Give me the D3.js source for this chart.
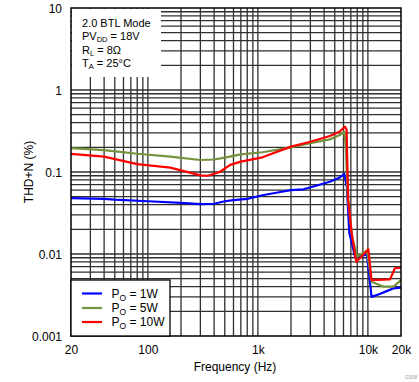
<!DOCTYPE html>
<html><head><meta charset="utf-8">
<script src="https://cdn.jsdelivr.net/npm/d3@7"></script>
<style>body{margin:0;background:#fff}svg{display:block;font-family:"Liberation Sans",Arial,sans-serif}</style>
</head><body>
<script>
// ---- data ----
const xTickValues = [20, 100, 1000, 10000, 20000];
const xTickLabels = ["20", "100", "1k", "10k", "20k"];
const yTickValues = [0.001, 0.01, 0.1, 1, 10];
const yTickLabels = ["0.001", "0.01", "0.1", "1", "10"];

const freq1W = [20,40,50,100,200,300,400,500,600,800,1100,1600,2000,2600,3500,4500,5500,6100,6440,6780,7640,9800,10800,12800,15400,17000,20000];
const thd1W  = [0.048,0.047,0.046,0.044,0.042,0.0405,0.041,0.044,0.0455,0.047,0.052,0.057,0.060,0.0615,0.069,0.076,0.085,0.095,0.066,0.018,0.0093,0.0098,0.0030,0.00325,0.0036,0.0038,0.0039];

const freq5W = [20,40,80,160,300,400,500,700,1100,2000,3000,4500,5500,6100,6300,6550,7200,8000,9800,10800,13800,17100,20000];
const thd5W  = [0.195,0.185,0.167,0.154,0.140,0.142,0.150,0.164,0.174,0.200,0.224,0.250,0.280,0.310,0.200,0.050,0.016,0.0093,0.011,0.0046,0.0040,0.0040,0.0048];

const freq10W = [20,40,80,160,300,350,450,560,700,1100,2000,3000,4500,5500,6200,6400,6620,7120,7840,10100,10800,15900,17600,20000];
const thd10W  = [0.166,0.154,0.125,0.113,0.091,0.090,0.100,0.122,0.134,0.151,0.204,0.234,0.275,0.310,0.357,0.330,0.046,0.018,0.008,0.0114,0.0048,0.0049,0.0067,0.0068];

const seriesNames = ["1W", "5W", "10W"];
const seriesColors = ["#0000ff", "#76923c", "#ff0000"];
const seriesFreqs = [freq1W, freq5W, freq10W];
const seriesVals = [thd1W, thd5W, thd10W];

// ---- layout ----
const W = 419, H = 382;
const L = 71, R = 401, T = 8, B = 336;

const svg = d3.select("body").append("svg").attr("width", W).attr("height", H);

const x = d3.scaleLog().domain([20, 20000]).range([L, R]);
const y = d3.scaleLog().domain([0.001, 10]).range([B, T]);

// grid
const xGrid = [];
[10, 100, 1000, 10000].forEach(d => { for (let k = 1; k <= 9; k++) { const v = d * k; if (v > 20 && v < 20000) xGrid.push(v); } });
const yGrid = [];
[0.001, 0.01, 0.1, 1].forEach(d => { for (let k = 1; k <= 9; k++) { const v = d * k; if (v > 0.001 * 1.0001 && v < 10 * 0.9999) yGrid.push(v); } });

const grid = svg.append("g").attr("stroke", "#303030").attr("stroke-width", 1.3);
grid.selectAll("line.v").data(xGrid).enter().append("line")
  .attr("x1", d => x(d)).attr("x2", d => x(d)).attr("y1", T).attr("y2", B);
grid.selectAll("line.h").data(yGrid).enter().append("line")
  .attr("y1", d => y(d)).attr("y2", d => y(d)).attr("x1", L).attr("x2", R);

// info box (covers grid)
svg.append("rect").attr("x", L + 1).attr("y", T + 1).attr("width", 89).attr("height", 68).attr("fill", "#fff");

// curves
const line = d3.line().x(d => x(d[0])).y(d => y(d[1]));
seriesNames.forEach((n, i) => {
  const pts = seriesFreqs[i].map((f, j) => [f, seriesVals[i][j]]);
  svg.append("path").datum(pts).attr("d", line).attr("fill", "none")
    .attr("stroke", seriesColors[i]).attr("stroke-width", 2.2).attr("stroke-linejoin", "round");
});

// border
svg.append("rect").attr("x", L).attr("y", T).attr("width", R - L).attr("height", B - T)
  .attr("fill", "none").attr("stroke", "#000").attr("stroke-width", 1.5);

// axes (labels only)
const xAxis = d3.axisBottom(x).tickValues(xTickValues).tickFormat((d, i) => xTickLabels[i]).tickSize(0).tickPadding(0);
const gx = svg.append("g").attr("transform", `translate(0,${B})`).call(xAxis);
gx.select(".domain").remove();
gx.selectAll("text").attr("font-size", 12).attr("fill", "#000").attr("font-family", "Liberation Sans, Arial, sans-serif")
  .attr("dy", null).attr("y", 17.5);

const yAxis = d3.axisLeft(y).tickValues(yTickValues).tickFormat((d, i) => yTickLabels[i]).tickSize(0).tickPadding(0);
const gy = svg.append("g").attr("transform", `translate(${L - 9},0)`).call(yAxis);
gy.select(".domain").remove();
gy.selectAll("text").attr("font-size", 12).attr("fill", "#000").attr("font-family", "Liberation Sans, Arial, sans-serif")
  .attr("dy", "0.36em").attr("x", 0);

// axis titles
svg.append("text").attr("x", 235).attr("y", 371).attr("text-anchor", "middle").attr("font-size", 12).text("Frequency (Hz)");
svg.append("text").attr("transform", "translate(32.5,172) rotate(-90)").attr("text-anchor", "middle").attr("font-size", 12).text("THD+N (%)");

// info text
const info = svg.append("g").attr("font-size", 11).attr("fill", "#000");
const t1 = info.append("text").attr("x", 82).attr("y", 27).text("2.0 BTL Mode");
const t2 = info.append("text").attr("x", 82).attr("y", 40);
t2.append("tspan").text("PV");
t2.append("tspan").attr("font-size", 7.5).attr("dy", 2).text("DD");
t2.append("tspan").attr("dy", -2).text(" = 18V");
const t3 = info.append("text").attr("x", 82).attr("y", 54);
t3.append("tspan").text("R");
t3.append("tspan").attr("font-size", 7.5).attr("dy", 2).text("L");
t3.append("tspan").attr("dy", -2).text(" = 8Ω");
const t4 = info.append("text").attr("x", 82).attr("y", 67);
t4.append("tspan").text("T");
t4.append("tspan").attr("font-size", 7.5).attr("dy", 2).text("A");
t4.append("tspan").attr("dy", -2).text(" = 25°C");

// legend
svg.append("rect").attr("x", L).attr("y", 280).attr("width", 99).attr("height", B - 280)
  .attr("fill", "#fff").attr("stroke", "#000").attr("stroke-width", 1.3);
const legY = [293.5, 308, 322];
seriesNames.forEach((n, i) => {
  svg.append("line").attr("x1", 82).attr("x2", 102).attr("y1", legY[i]).attr("y2", legY[i])
    .attr("stroke", seriesColors[i]).attr("stroke-width", 2.2);
  const t = svg.append("text").attr("x", 111.5).attr("y", legY[i] + 4).attr("font-size", 12);
  t.append("tspan").text("P");
  t.append("tspan").attr("font-size", 8.5).attr("dy", 3).text("O");
  t.append("tspan").attr("dy", -3).text(" = " + n);
});

// tiny code
svg.append("text").attr("x", 417).attr("y", 379).attr("text-anchor", "end").attr("font-size", 5).attr("fill", "#999").text("G008");
</script>
</body></html>
